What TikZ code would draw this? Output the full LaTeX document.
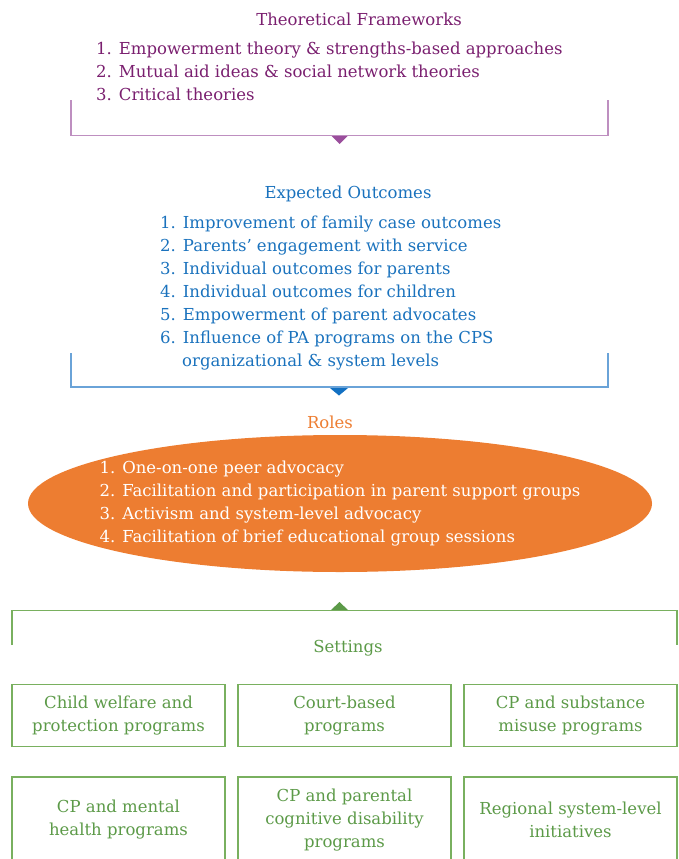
\documentclass[tikz,border=0pt]{standalone}
\usepackage{fontspec}
\setmainfont{DejaVu Serif}
\usetikzlibrary{positioning,shapes.geometric}

\definecolor{tfpurple}{HTML}{7A1F6F}
\definecolor{tfline}{HTML}{BE8FC0}
\definecolor{tfmark}{HTML}{9A4E9C}
\definecolor{eoblue}{HTML}{1A72BD}
\definecolor{eoline}{HTML}{6AA3D8}
\definecolor{eomark}{HTML}{1270C2}
\definecolor{rolorange}{HTML}{ED7D31}
\definecolor{setgreen}{HTML}{5C9A48}
\definecolor{setline}{HTML}{79B05F}

\begin{document}
\begin{tikzpicture}[x=1pt, y=-1pt,
		txt/.style={font=\fontsize{16.5}{23}\selectfont, inner sep=0pt},
		lst/.style={txt, align=left, anchor=north west},
		setbox/.style={txt, draw=setline, line width=1.2pt, text=setgreen, align=center,
			minimum width=213pt, minimum height=62pt}]
		\useasboundingbox (0,0) rectangle (679,859);
		
		% Define nodes
		\node[txt, text=tfpurple]  (tf) at (359,19) {Theoretical Frameworks};
		\node[lst, text=tfpurple]  (tflist) at (96,42) {1. Empowerment theory \& strengths-based approaches\\
			2. Mutual aid ideas \& social network theories\\
			3. Critical theories};
		\node[txt, text=eoblue]    (eo) at (348,193.5) {Expected Outcomes};
		\node[lst, text=eoblue]    (eolist) at (160,216) {1. Improvement of family case outcomes\\
			2. Parents’ engagement with service\\
			3. Individual outcomes for parents\\
			4. Individual outcomes for children\\
			5. Empowerment of parent advocates\\
			6. Influence of PA programs on the CPS\\
			\hspace*{22pt}organizational \& system levels};
		\node[txt, text=rolorange] (ro) at (330,422) {Roles};
		\node[ellipse, fill=rolorange, inner sep=0pt, minimum width=624pt, minimum height=137pt] (roell) at (340,503.5) {};
		\node[txt, text=white, align=left] (rolist) at (roell.center) {1. One-on-one peer advocacy\\
			2. Facilitation and participation in parent support groups\\
			3. Activism and system-level advocacy\\
			4. Facilitation of brief educational group sessions};
		\node[txt, text=setgreen]  (se) at (348,648) {Settings};
		
		\node[setbox] (cw) at (118.5,715.5) {Child welfare and\\protection programs};
		\node[setbox, right=11.8pt of cw] (cb) {Court-based\\programs};
		\node[setbox, right=11.8pt of cb] (cs) {CP and substance\\misuse programs};
		\node[setbox, minimum height=86pt] (cm) at (118.5,820) {CP and mental\\health programs};
		\node[setbox, minimum height=86pt, right=11.8pt of cm] (cc) {CP and parental\\cognitive disability\\programs};
		\node[setbox, minimum height=86pt, right=11.8pt of cc] (cr) {Regional system-level\\initiatives};
		
		% Brackets
		\draw[tfline, line width=1.3pt] (71,100) |- (608,135.5) -- (608,100);
		\draw[eoline, line width=1.3pt] (71,353) |- (608,387) -- (608,353);
		\draw[setline, line width=1.3pt] (12,645) |- (677,610.5) -- (677,645);
		
		% Markers
		\coordinate (tfmk) at (339.5,136);
		\coordinate (eomk) at (339,388);
		\coordinate (semk) at (339.5,610);
		\fill[tfmark] (tfmk) ++(-8,0) -- ++(16,0) -- ++(-8,8) -- cycle;
		\fill[eomark] (eomk) ++(-9,0) -- ++(18,0) -- ++(-9,7.5) -- cycle;
		\fill[setgreen] (semk) ++(-8.5,0) -- ++(17,0) -- ++(-8.5,-8) -- cycle;
		
\end{tikzpicture}
\end{document}
